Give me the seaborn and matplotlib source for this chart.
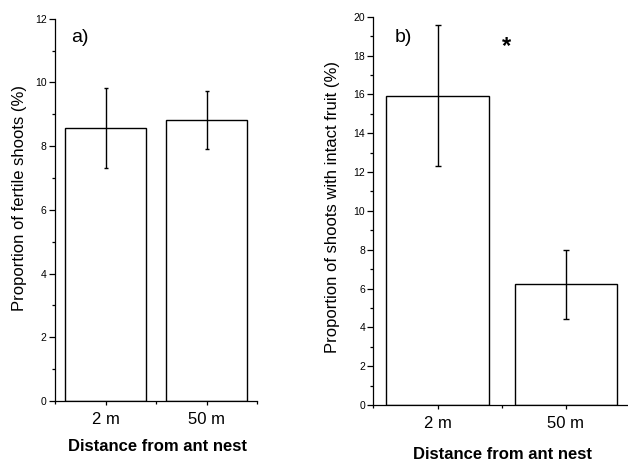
import matplotlib
matplotlib.use("Agg")
import matplotlib.pyplot as plt
import seaborn as sns
import numpy as np
from matplotlib.ticker import MultipleLocator, FixedLocator

# data
distances = ["2 m", "50 m"]
fertile_mean = [8.57, 8.82]
fertile_se = [1.25, 0.92]
fruit_mean = [15.93, 6.22]
fruit_se = [3.64, 1.78]

sns.set_style("ticks")
plt.rcParams['font.family'] = ['Liberation Sans', 'DejaVu Sans']
for k in ['text.color', 'axes.labelcolor', 'xtick.color', 'ytick.color', 'axes.edgecolor']:
    plt.rcParams[k] = 'black'

fig = plt.figure(figsize=(6.28, 4.61), dpi=100)
W, H = 628, 461
ax_a = fig.add_axes([55 / W, 1 - 401 / H, (257 - 55) / W, (401 - 18.7) / H])
ax_b = fig.add_axes([373.5 / W, 1 - 405 / H, (628 - 373.5) / W, (405 - 16.7) / H])


def draw_panel(ax, means, se, ymax, ylabel, capsize):
    sns.barplot(x=distances, y=means, ax=ax, color="white", edgecolor="black",
                linewidth=1.0, width=0.8, saturation=1, errorbar=None)
    ax.errorbar(x=np.arange(len(means)), y=means, yerr=se, fmt="none",
                ecolor="black", elinewidth=1.0, capsize=capsize, capthick=1.0)
    ax.set_ylim(0, ymax)
    ax.yaxis.set_major_locator(MultipleLocator(2))
    ax.yaxis.set_minor_locator(MultipleLocator(1))
    ax.xaxis.set_minor_locator(FixedLocator([-0.5, 0.5, 1.5]))
    ax.tick_params(axis="y", which="major", length=4, width=0.9, labelsize=7.5, pad=2)
    ax.tick_params(axis="y", which="minor", length=2.5, width=0.9)
    ax.tick_params(axis="x", which="major", length=3, width=0.9, labelsize=12, pad=5)
    ax.tick_params(axis="x", which="minor", length=2.5, width=0.9)
    for s in ["left", "bottom"]:
        ax.spines[s].set_linewidth(0.9)
    sns.despine(ax=ax)
    ax.set_ylabel(ylabel, fontsize=12)
    ax.set_xlabel("Distance from ant nest", fontsize=12, fontweight="bold")


draw_panel(ax_a, fertile_mean, fertile_se, 12, "Proportion of fertile shoots (%)", 1.5)
ax_a.set_xlim(-0.5, 1.5)
ax_a.yaxis.set_label_coords(-0.14, 0.53)
ax_a.xaxis.set_label_coords(0.505, -0.10)
ax_a.text(-0.337, 11.28, "a)", fontsize=14, ha="left", va="baseline")

draw_panel(ax_b, fruit_mean, fruit_se, 20, "Proportion of shoots with intact fruit (%)", 2.5)
ax_b.set_xlim(-0.5, 1.484)
ax_b.yaxis.set_label_coords(-0.13, 0.51)
ax_b.xaxis.set_label_coords(0.505, -0.107)
ax_b.text(-0.333, 18.72, "b)", fontsize=14, ha="left", va="baseline")
ax_b.text(0.538, 18.45, "*", fontsize=17, fontweight="bold", ha="center", va="center")

fig.savefig("out.png", dpi=100)
